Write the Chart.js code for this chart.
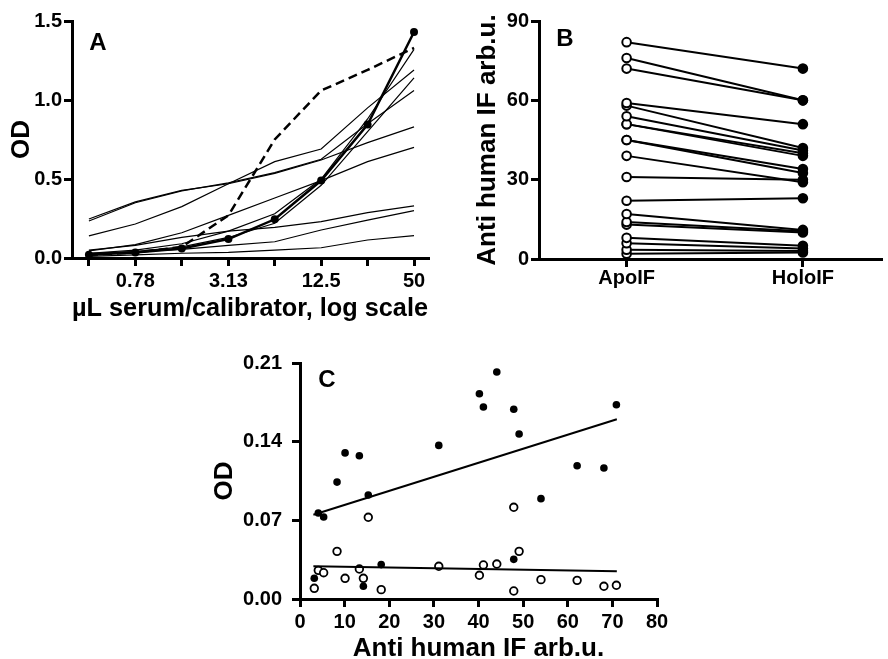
<!DOCTYPE html>
<html>
<head>
<meta charset="utf-8">
<script src="https://cdn.jsdelivr.net/npm/chart.js@4"></script>
<style>
  body { margin: 0; background: #fff; overflow: hidden; }
  #wrap { position: relative; width: 888px; height: 659px; }
  canvas { position: absolute; }
</style>
</head>
<body>
<div id="wrap">
  <canvas id="panelC" width="480" height="339" style="left:200px;top:320px"></canvas>
  <canvas id="panelA" width="450" height="332" style="left:0;top:0"></canvas>
  <canvas id="panelB" width="438" height="320" style="left:450px;top:0"></canvas>
</div>
<script>
// Panel A: dilution curves
var doses = [0.39, 0.78, 1.56, 3.13, 6.25, 12.5, 25, 50];
var doseLabels = ['', '0.78', '', '3.13', '', '12.5', '', '50'];
var odTicksA = [0, 0.5, 1.0, 1.5];
var calibrator = [0.02, 0.035, 0.06, 0.12, 0.245, 0.49, 0.845, 1.43];
var dashedSerum = [0.02, 0.035, 0.07, 0.27, 0.75, 1.06, 1.19, 1.33];
var sera = [
  [0.247, 0.355, 0.428, 0.47, 0.536, 0.62, 0.73, 0.83],
  [0.234, 0.35, 0.425, 0.475, 0.54, 0.625, 0.85, 1.06],
  [0.14, 0.215, 0.325, 0.47, 0.61, 0.69, 0.95, 1.19],
  [0.045, 0.085, 0.16, 0.27, 0.38, 0.49, 0.61, 0.70],
  [0.03, 0.05, 0.09, 0.17, 0.28, 0.5, 0.88, 1.32],
  [0.025, 0.04, 0.07, 0.13, 0.22, 0.46, 0.8, 1.14],
  [0.05, 0.08, 0.13, 0.17, 0.194, 0.23, 0.287, 0.33],
  [0.03, 0.04, 0.055, 0.08, 0.103, 0.177, 0.24, 0.30],
  [0.01, 0.02, 0.03, 0.035, 0.05, 0.065, 0.114, 0.141]
];

// Panel B: ApoIF vs HoloIF paired values
var groups = ['ApoIF', 'HoloIF'];
var apoIF  = [82, 76, 72, 59, 58, 54, 51, 51, 45, 45, 39, 31, 22, 17, 14, 13, 8, 6, 3.5, 2];
var holoIF = [72, 60, 60, 51, 42, 41, 40, 39, 34, 32.5, 29, 30, 23, 11, 10.5, 10, 5, 4, 3, 2.5];
var ticksB = [0, 30, 60, 90];

// Panel C: OD vs anti human IF
var antiIF   = [3.2, 4.1, 5.3, 8.3, 10.1, 13.3, 14.2, 15.3, 18.2, 31.1, 40.2, 41.1, 44.1, 47.9, 47.9, 49.1, 54, 62.1, 68.1, 70.9];
var odFilled = [0.0184, 0.0765, 0.073, 0.104, 0.130, 0.1275, 0.0113, 0.0925, 0.0306, 0.1367, 0.1827, 0.1708, 0.202, 0.1688, 0.0353, 0.1468, 0.0893, 0.1186, 0.1166, 0.1729];
var odOpen   = [0.0095, 0.0255, 0.0234, 0.0424, 0.0184, 0.0267, 0.0184, 0.0727, 0.0083, 0.0291, 0.0211, 0.0303, 0.0311, 0.0816, 0.0071, 0.0424, 0.0172, 0.0166, 0.0113, 0.0122];
var fitX = [3, 71];
var fitFilled = [0.075, 0.16];
var fitOpen = [0.0291, 0.0246];
var odTicksC = [0, 0.07, 0.14, 0.21];

var FONT = 'Liberation Sans, Arial, Helvetica, sans-serif';
Chart.defaults.font.family = FONT;
Chart.defaults.font.weight = 'bold';
Chart.defaults.color = '#000';
Chart.defaults.animation = false;

var panelLetter = {
  id: 'panelLetter',
  afterDraw: function (chart, args, opts) {
    var ctx = chart.ctx;
    ctx.save();
    ctx.font = 'bold 24px ' + FONT;
    ctx.fillStyle = '#000';
    ctx.textAlign = 'center';
    ctx.textBaseline = 'middle';
    ctx.fillText(opts.text, opts.x, opts.y);
    ctx.restore();
  }
};

function axis(extra) {
  var base = {
    border: { display: true, color: '#000', width: 3 },
    grid: { display: true, drawOnChartArea: false, drawTicks: true, tickLength: 8, lineWidth: 3, color: '#000' },
    ticks: { color: '#000', font: { size: 20, weight: 'bold' }, padding: 2, autoSkip: false, maxRotation: 0 }
  };
  for (var k in extra) {
    if (k === 'ticks') {
      for (var t in extra.ticks) base.ticks[t] = extra.ticks[t];
    } else {
      base[k] = extra[k];
    }
  }
  return base;
}

function title(text, pad) {
  return { display: true, text: text, color: '#000', font: { size: 26, weight: 'bold', lineHeight: 1 }, padding: pad };
}

// ---------- Panel A ----------
var dsA = sera.map(function (s) {
  return { data: s, borderColor: '#000', borderWidth: 1.2, pointRadius: 0, fill: false };
});
dsA.push({ data: dashedSerum, borderColor: '#000', borderWidth: 2.5, borderDash: [9, 5], pointRadius: 0, fill: false });
dsA.push({ data: calibrator, borderColor: '#000', borderWidth: 2.5, pointRadius: 4, pointBackgroundColor: '#000', pointBorderWidth: 0, fill: false });

new Chart(document.getElementById('panelA').getContext('2d'), {
  type: 'line',
  data: { labels: doses, datasets: dsA },
  plugins: [panelLetter],
  options: {
    responsive: false,
    devicePixelRatio: 1,
    clip: false,
    layout: { padding: { top: 21, right: 22, left: 0, bottom: 0 } },
    plugins: { legend: { display: false }, tooltip: { enabled: false }, panelLetter: { text: 'A', x: 98, y: 43 } },
    scales: {
      x: axis({
        type: 'logarithmic', min: 0.303, max: 61.6, bounds: 'data',
        afterBuildTicks: function (s) { s.ticks = doses.map(function (v) { return { value: v }; }); },
        afterFit: function (s) { s.height = 74; },
        ticks: { callback: function (v, i) { return doseLabels[i]; }, padding: 3 },
        title: title('µL serum/calibrator, log scale', { top: 0, bottom: 10 })
      }),
      y: axis({
        min: 0, max: 1.5,
        afterBuildTicks: function (s) { s.ticks = odTicksA.map(function (v) { return { value: v }; }); },
        afterFit: function (s) { s.width = 72; },
        ticks: { callback: function (v) { return v.toFixed(1); } },
        title: title('OD', { top: 9, bottom: 0 })
      })
    }
  }
});

// ---------- Panel B ----------
var dsB = apoIF.map(function (a, i) {
  return {
    data: [{ x: 0, y: a }, { x: 1, y: holoIF[i] }],
    borderColor: '#000', borderWidth: 2,
    pointRadius: 4.3, pointBorderWidth: 2,
    pointBorderColor: '#000', pointBackgroundColor: ['#fff', '#000']
  };
});

new Chart(document.getElementById('panelB').getContext('2d'), {
  type: 'line',
  data: { datasets: dsB },
  plugins: [panelLetter],
  options: {
    responsive: false,
    devicePixelRatio: 1,
    clip: false,
    layout: { padding: { top: 21, right: 1, left: 0, bottom: 0 } },
    plugins: { legend: { display: false }, tooltip: { enabled: false }, panelLetter: { text: 'B', x: 115, y: 39 } },
    scales: {
      x: axis({
        type: 'linear', min: -0.497, max: 1.447,
        afterBuildTicks: function (s) { s.ticks = [{ value: 0 }, { value: 1 }]; },
        afterFit: function (s) { s.height = 61; },
        ticks: { callback: function (v) { return groups[v]; }, padding: -1 }
      }),
      y: axis({
        min: 0, max: 90,
        afterBuildTicks: function (s) { s.ticks = ticksB.map(function (v) { return { value: v }; }); },
        afterFit: function (s) { s.width = 89; },
        title: title('Anti human IF arb.u.', { top: 25, bottom: 0 })
      })
    }
  }
});

// ---------- Panel C ----------
function pts(xs, ys) {
  return xs.map(function (x, i) { return { x: x, y: ys[i] }; });
}

new Chart(document.getElementById('panelC').getContext('2d'), {
  type: 'scatter',
  data: {
    datasets: [
      { type: 'line', data: pts(fitX, fitFilled), borderColor: '#000', borderWidth: 2, pointRadius: 0 },
      { type: 'line', data: pts(fitX, fitOpen), borderColor: '#000', borderWidth: 2, pointRadius: 0 },
      { data: pts(antiIF, odFilled), pointRadius: 3.8, pointBackgroundColor: '#000', pointBorderColor: '#000', pointBorderWidth: 0 },
      { data: pts(antiIF, odOpen), pointRadius: 3.8, pointBackgroundColor: '#fff', pointBorderColor: '#000', pointBorderWidth: 1.8 }
    ]
  },
  plugins: [panelLetter],
  options: {
    responsive: false,
    devicePixelRatio: 1,
    clip: false,
    layout: { padding: { top: 43, right: 23, left: 0, bottom: 0 } },
    plugins: { legend: { display: false }, tooltip: { enabled: false }, panelLetter: { text: 'C', x: 127, y: 60 } },
    scales: {
      x: axis({
        type: 'linear', min: 0, max: 80,
        afterFit: function (s) { s.height = 60; },
        ticks: { stepSize: 10, padding: 3 },
        title: title('Anti human IF arb.u.', { top: 0, bottom: -3 })
      }),
      y: axis({
        min: 0, max: 0.21,
        afterBuildTicks: function (s) { s.ticks = odTicksC.map(function (v) { return { value: v }; }); },
        afterFit: function (s) { s.width = 100; },
        ticks: { callback: function (v) { return v.toFixed(2); }, padding: 10 },
        title: title('OD', { top: 12, bottom: 0 })
      })
    }
  }
});
</script>
</body>
</html>
